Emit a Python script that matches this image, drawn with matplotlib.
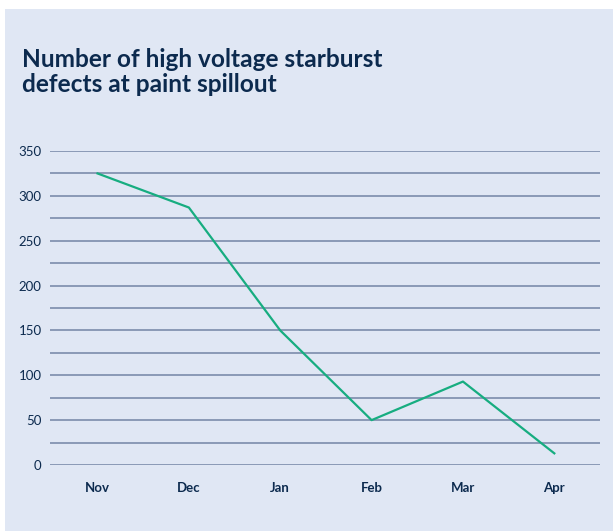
import matplotlib.pyplot as plt
from matplotlib.patches import Rectangle

# data
months = ["Nov", "Dec", "Jan", "Feb", "Mar", "Apr"]
defects = [325, 287, 150, 50, 93, 13]
y_ticks = [0, 50, 100, 150, 200, 250, 300, 350]

bg = "#e0e7f4"
navy = "#0c2a4e"
grid_col = "#7c8cab"
line_col = "#17ad80"

plt.rcParams['font.family'] = ['Lato', 'DejaVu Sans']

fig = plt.figure(figsize=(6.13, 5.31), dpi=100)
fig.patch.set_facecolor("white")
fig.patches.append(Rectangle((5 / 613, 0), 1, 1 - 9 / 531, transform=fig.transFigure,
                             facecolor=bg, edgecolor="none", zorder=-5))

fig.text(22 / 613, 1 - 48 / 531, "Number of high voltage starburst\ndefects at paint spillout",
         fontsize=17.6, fontweight="bold", color=navy, va="top", ha="left", linespacing=1.1)

ax = fig.add_axes([50 / 613, 1 - 465 / 531, 550 / 613, 314 / 531])
ax.set_facecolor("none")
x = list(range(len(months)))
ax.plot(x, defects, color=line_col, lw=1.6, zorder=3)

ax.set_xlim(-0.52, 5.5)
ax.set_ylim(0, 350)
ax.set_yticks(y_ticks)
ax.set_yticks(range(25, 350, 50), minor=True)
ax.set_xticks(x)
ax.set_xticklabels(months, fontweight="bold")
ax.grid(axis="y", which="both", color=grid_col, lw=1.2)
ax.tick_params(axis="y", which="both", length=0, labelsize=9.5, labelcolor=navy, pad=6)
ax.tick_params(axis="x", length=0, labelsize=9.5, labelcolor=navy, pad=12)
for s in ax.spines.values():
    s.set_visible(False)

fig.savefig("out.png", dpi=100, facecolor=fig.get_facecolor())
